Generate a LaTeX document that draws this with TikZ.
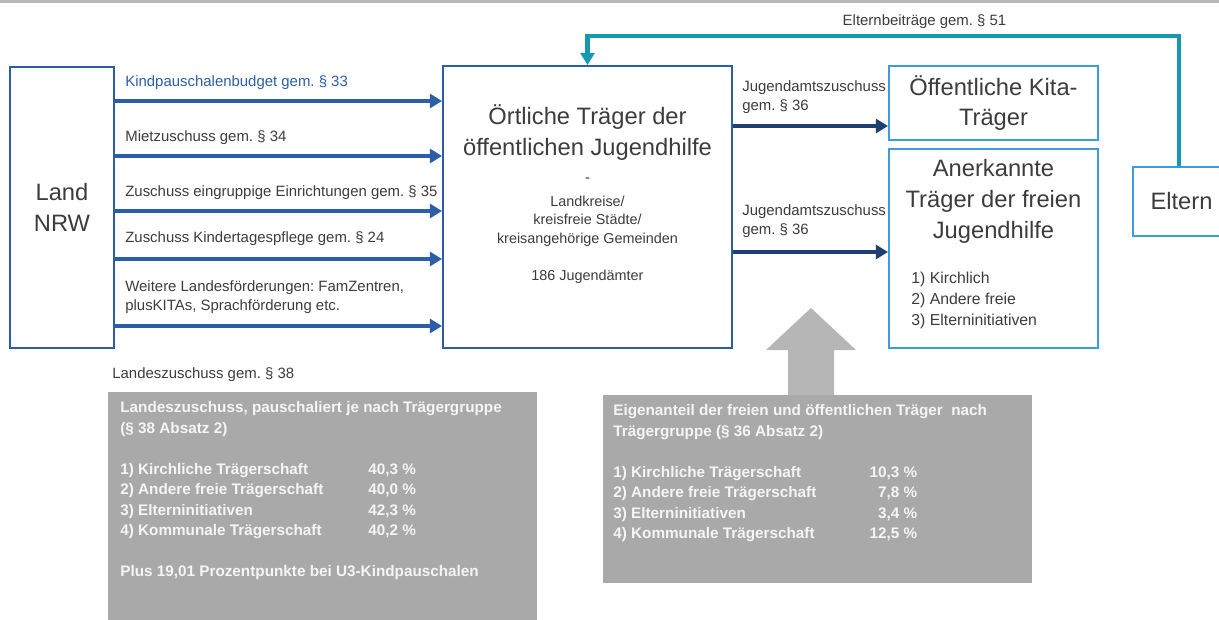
\documentclass[tikz,border=0pt]{standalone}
\usepackage{fontspec}
\setmainfont{Liberation Sans}
\usepackage{array}
\usetikzlibrary{arrows.meta}
\definecolor{landblue}{HTML}{2B5EA7}
\definecolor{navy}{HTML}{1F3F70}
\definecolor{kitablue}{HTML}{3F9BDD}
\definecolor{tealline}{HTML}{1699AF}
\definecolor{txtgray}{HTML}{3C3C3C}
\definecolor{boxgray}{HTML}{A9A9A9}
\definecolor{arrgray}{HTML}{B6B6B6}
\frenchspacing

\begin{document}
\begin{tikzpicture}[x=0.02cm,y=-0.02cm,
    big/.style={font=\fontsize{13.5}{17.5}\selectfont,text=txtgray,align=center},
    small/.style={font=\fontsize{8.5}{10.8}\selectfont,text=txtgray,align=left,inner sep=0pt},
    graytext/.style={font=\fontsize{8.7}{11.7}\selectfont\bfseries,text=gray!8,inner sep=0pt}]
\useasboundingbox (0,0) rectangle (1219,619);
\draw[gray!55,line width=1.2pt] (0,1.5) -- (1219,1.5);

% boxes
\begin{scope}[every node/.style={draw,line width=1.1pt,inner sep=0pt}]
    \node[draw=landblue,minimum width=2.08cm,minimum height=5.62cm,big] (land) at (62,207.5) {Land\\NRW};
    \node[draw=landblue,minimum width=5.78cm,minimum height=5.64cm] (oert) at (587.5,207) {};
    \node[draw=kitablue,minimum width=4.18cm,minimum height=1.48cm,big] (kita) at (993.5,103) {Öffentliche Kita-\\Träger};
    \node[draw=kitablue,minimum width=4.18cm,minimum height=3.98cm] (frei) at (993.5,248.5) {};
    \node[draw=kitablue,minimum width=1.94cm,minimum height=1.38cm,big] (eltern) at (1181.5,201.5) {Eltern};
    \node[draw=none,fill=boxgray,minimum width=8.58cm,minimum height=4.66cm] (lz) at (322.5,508.5) {};
    \node[draw=none,fill=boxgray,minimum width=8.58cm,minimum height=3.76cm] (ea) at (817.5,489) {};
\end{scope}

% texts in the boxes
\node[big] (oert1) at (587.5,132.5) {Örtliche Träger der\\öffentlichen Jugendhilfe};
\node[small] (oert2) at (587.5,180) {-};
\node[small,align=center,font=\fontsize{8.2}{10.5}\selectfont] (oert3) at (587.5,221) {Landkreise/\\kreisfreie Städte/\\kreisangehörige Gemeinden};
\node[small,font=\fontsize{8.2}{10.5}\selectfont] (oert4) at (587.5,277) {186 Jugendämter};
\node[big] (frei1) at (993.5,201.5) {Anerkannte\\Träger der freien\\Jugendhilfe};
\node[small,anchor=west,font=\fontsize{9}{11.9}\selectfont] (frei2) at (911,300) {1) Kirchlich\\2) Andere freie\\3) Elterninitiativen};

% labels
\node[small,anchor=west,text=landblue] (l1) at (125,83) {Kindpauschalenbudget gem. § 33};
\node[small,anchor=west] (l2) at (125,138) {Mietzuschuss gem. § 34};
\node[small,anchor=west] (l3) at (125,193) {Zuschuss eingruppige Einrichtungen gem. § 35};
\node[small,anchor=west] (l4) at (125,239) {Zuschuss Kindertagespflege gem. § 24};
\node[small,anchor=west] (l5) at (125,297.5) {Weitere Landesförderungen: FamZentren,\\plusKITAs, Sprachförderung etc.};
\node[small,anchor=west] (j1) at (742,97.5) {Jugendamtszuschuss\\gem. § 36};
\node[small,anchor=west] (j2) at (742,221.5) {Jugendamtszuschuss\\gem. § 36};
\node[small] (eb) at (924.5,22) {Elternbeiträge gem. § 51};
\node[small,anchor=west] (lzt) at (112,375) {Landeszuschuss gem. § 38};

% arrows
\begin{scope}[every edge/.style={draw=landblue,line width=2.3pt,-{Triangle[length=7pt,width=8pt]}}]
    \path (land.east |- 0,101) edge (oert.west |- 0,101);
    \path (land.east |- 0,156) edge (oert.west |- 0,156);
    \path (land.east |- 0,211) edge (oert.west |- 0,211);
    \path (land.east |- 0,259) edge (oert.west |- 0,259);
    \path (land.east |- 0,326) edge (oert.west |- 0,326);
\end{scope}
\begin{scope}[every edge/.style={draw=navy,line width=2.3pt,-{Triangle[length=7pt,width=8pt]}}]
    \path (oert.east |- 0,126) edge (kita.west |- 0,126);
    \path (oert.east |- 0,252) edge (frei.west |- 0,252);
\end{scope}
\draw[tealline,line width=2.3pt,-{Triangle[length=7pt,width=8pt]}] (eltern.north -| 1179,0) -- (1179,36) -| (oert.north);

% gray arrow
\fill[arrgray] (788,395) -- (788,350) -- (766,350) -- (811,308) -- (856,350) -- (834,350) -- (834,395) -- cycle;

% gray boxes
\node[graytext,anchor=base west] (lztab) at (120,412.5) {\begin{tabular}[t]{@{}p{4.96cm}@{}l@{}}
\multicolumn{2}{@{}l@{}}{Landeszuschuss, pauschaliert je nach Trägergruppe}\\
(§ 38 Absatz 2) & \\
 & \\
1) Kirchliche Trägerschaft & 40,3~\%\\
2) Andere freie Trägerschaft & 40,0~\%\\
3) Elterninitiativen & 42,3~\%\\
4) Kommunale Trägerschaft & 40,2~\%\\
 & \\
\multicolumn{2}{@{}l@{}}{Plus 19,01 Prozentpunkte bei U3-Kindpauschalen}
\end{tabular}};
\node[graytext,anchor=base west] (eatab) at (613,415.5) {\begin{tabular}[t]{@{}p{5cm}@{}>{\raggedleft\arraybackslash}p{1.08cm}@{}}
\multicolumn{2}{@{}l@{}}{Eigenanteil der freien und öffentlichen Träger~~nach}\\
\multicolumn{2}{@{}l@{}}{Trägergruppe (§ 36 Absatz 2)}\\
 & \\
1) Kirchliche Trägerschaft & 10,3~\%\\
2) Andere freie Trägerschaft & 7,8~\%\\
3) Elterninitiativen & 3,4~\%\\
4) Kommunale Trägerschaft & 12,5~\%
\end{tabular}};
\end{tikzpicture}
\end{document}
